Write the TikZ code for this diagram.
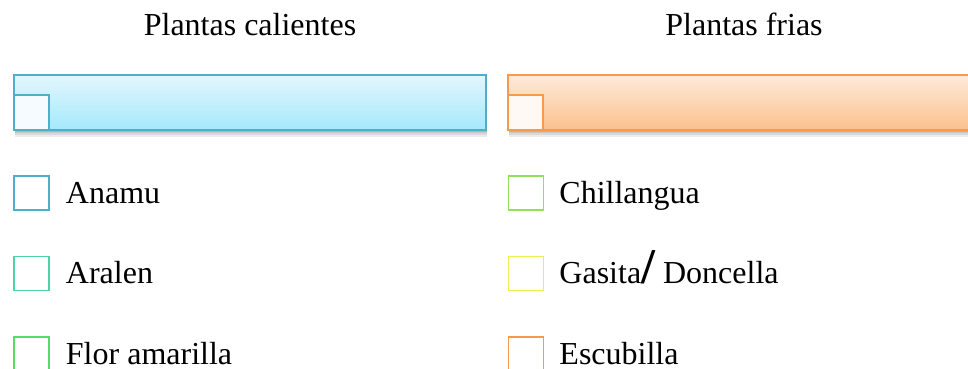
\documentclass[tikz,border=0pt]{standalone}
\usepackage{fontspec}
\setmainfont{Liberation Serif}
\usetikzlibrary{chains,positioning,shadows}

\definecolor{calline}{HTML}{4FAFC8}
\definecolor{caltop}{HTML}{E3F6FD}
\definecolor{calbot}{HTML}{A4E9FC}
\definecolor{calcorner}{HTML}{F5FBFE}
\definecolor{friline}{HTML}{F79A4E}
\definecolor{fritop}{HTML}{FEEADB}
\definecolor{fribot}{HTML}{FBC18C}
\definecolor{fricorner}{HTML}{FFF9F5}
\definecolor{anamu}{HTML}{4FAFC8}
\definecolor{aralen}{HTML}{4FD3A6}
\definecolor{flor}{HTML}{55DC62}
\definecolor{chill}{HTML}{8FE25A}
\definecolor{gasita}{HTML}{EEEE4C}
\definecolor{escub}{HTML}{F79A4E}

\begin{document}
\begin{tikzpicture}[x=1pt,y=-1pt]

\tikzstyle{pltitle}=[inner sep=0pt,text height=20pt,text depth=0pt,font=\fontsize{32}{38}\selectfont]
\tikzstyle{plitem}=[pltitle]
\tikzstyle{plbar}=[draw,line width=1.5pt,minimum width=472pt,minimum height=55pt,inner sep=0pt,
  general shadow={shadow xshift=.5pt,shadow yshift=-7pt,opacity=.12,fill=black!60},
  general shadow={shadow xshift=.5pt,shadow yshift=-5pt,opacity=.14,fill=black!60},
  general shadow={shadow xshift=.5pt,shadow yshift=-3pt,opacity=.16,fill=black!60},
  general shadow={shadow xshift=.5pt,shadow yshift=-1.5pt,opacity=.18,fill=black!60}]
\tikzstyle{plcorner}=[draw,line width=1.5pt,minimum width=35pt,minimum height=35pt,inner sep=0pt,anchor=south west]
\tikzstyle{plbox}=[draw,line width=1.5pt,minimum width=35pt,minimum height=34pt,inner sep=0pt]

\newcommand{\bigslash}{{\fontsize{50}{50}\selectfont\bfseries /}}

\clip (0,0) rectangle (968,369);

%% Header bars
\node [plbar, draw=calline, top color=caltop, bottom color=calbot] (barcal) at (250,102.5) {};
\node [plcorner, draw=calline, fill=calcorner] (cornercal) at (barcal.south west) {};
\node [plbar, draw=friline, top color=fritop, bottom color=fribot] (barfri) at (744,102.5) {};
\node [plcorner, draw=friline, fill=fricorner] (cornerfri) at (barfri.south west) {};

\node [pltitle, above=39pt of barcal] (ttlcal) {Plantas calientes};
\node [pltitle, above=39pt of barfri] (ttlfri) {Plantas frias};

%% Plantas calientes
\begin{scope}[shift={(31.5,193)}, start chain=1 going below, node distance=45pt]
    \node [on chain=1, plbox, draw=anamu] (cal0) {};
    \node [on chain=1, plbox, draw=aralen] (cal1) {};
    \node [on chain=1, plbox, draw=flor] (cal2) {};
\end{scope}
\node [plitem, right=16pt of cal0] (txtcal0) {Anamu};
\node [plitem, right=16pt of cal1] (txtcal1) {Aralen};
\node [plitem, right=16pt of cal2] (txtcal2) {Flor amarilla};

%% Plantas frias
\begin{scope}[shift={(526,193)}, start chain=2 going below, node distance=45pt]
    \node [on chain=2, plbox, draw=chill] (fri0) {};
    \node [on chain=2, plbox, draw=gasita] (fri1) {};
    \node [on chain=2, plbox, draw=escub] (fri2) {};
\end{scope}
\node [plitem, right=15pt of fri0] (txtfri0) {Chillangua};
\node [plitem, right=15pt of fri1] (txtfri1) {Gasita\bigslash\ Doncella};
\node [plitem, right=15pt of fri2] (txtfri2) {Escubilla};

\end{tikzpicture}
\end{document}
